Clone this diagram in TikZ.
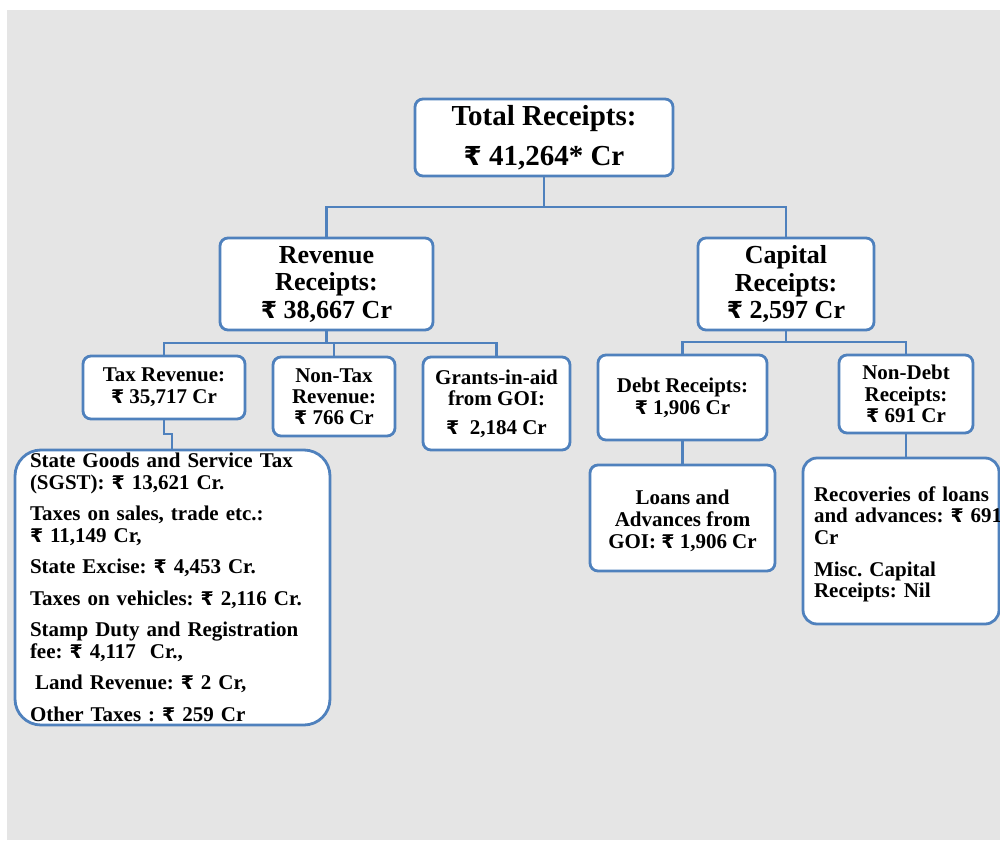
\documentclass[tikz,border=0pt]{standalone}
\usepackage{fontspec}
\setmainfont{Liberation Serif}
\newfontfamily\rupfont{DejaVu Sans}[Scale=0.9]
\definecolor{boxblue}{RGB}{79,129,189}
\definecolor{bggrey}{RGB}{229,229,229}
\newcommand{\rs}{{\rupfont ₹}}
\frenchspacing

\begin{document}
\begin{tikzpicture}[x=0.5pt,y=-0.5pt,
  box/.style={draw=boxblue,line width=1.4pt,fill=white,rounded corners=4pt,align=center,inner sep=2pt},
  conn/.style={draw=boxblue,line width=1.4pt}]
\useasboundingbox (0,0) rectangle (1000,840);
\fill[white] (0,0) rectangle (1000,840);
\fill[bggrey] (7,10) rectangle (1000,840);

% top level
\node [box,minimum width=129pt,minimum height=38.5pt,font=\bfseries\fontsize{14.5}{20}\selectfont] (total) at (544,137.5) {Total Receipts:\\ \rs\ 41,264* Cr};

% second level
\node [box,minimum width=106.5pt,minimum height=46pt,font=\bfseries\fontsize{13}{13.75}\selectfont] (revenue) at (326.5,284) {Revenue\\ Receipts:\\ \rs\ 38,667 Cr};
\node [box,minimum width=88pt,minimum height=46pt,font=\bfseries\fontsize{13}{13.75}\selectfont] (capital) at (786,284) {Capital\\ Receipts:\\ \rs\ 2,597 Cr};

% third level
\node [box,minimum width=81pt,minimum height=31.5pt,font=\bfseries\fontsize{10.5}{11}\selectfont] (tax) at (164,387.5) {Tax Revenue:\\ \rs\ 35,717 Cr};
\node [box,minimum width=61pt,minimum height=39.5pt,font=\bfseries\fontsize{10.5}{10.5}\selectfont] (nontax) at (334,396.5) {Non-Tax\\ Revenue:\\ \rs\ 766 Cr};
\node [box,minimum width=73.5pt,minimum height=46.5pt,font=\bfseries\fontsize{10.5}{10.5}\selectfont] (grants) at (496.5,403.5) {Grants-in-aid\\ from GOI:\\[4pt] \rs\ \ 2,184 Cr};
\node [box,minimum width=84.5pt,minimum height=42.5pt,font=\bfseries\fontsize{10.5}{11}\selectfont] (debt) at (682.5,397.5) {Debt Receipts:\\ \rs\ 1,906 Cr};
\node [box,minimum width=67pt,minimum height=39pt,font=\bfseries\fontsize{10.5}{10.65}\selectfont] (nondebt) at (906,394) {Non-Debt\\ Receipts:\\ \rs\ 691 Cr};

% fourth level
\node [box,minimum width=92.5pt,minimum height=53pt,font=\bfseries\fontsize{10.5}{11}\selectfont] (loans) at (682.5,518) {\rule{0pt}{10.5pt}Loans and\\ Advances from\\ GOI: \rs\ 1,906 Cr};
\node [box,rounded corners=7pt,minimum width=98pt,minimum height=83pt,text width=87pt,inner xsep=5.5pt,inner ysep=0pt,align=left,font=\bfseries\fontsize{10.5}{10.75}\selectfont] (recov) at (901,541)
  {\rule{0pt}{10.5pt}\mbox{Recoveries of loans}\\ \mbox{and advances: \rs\ 691}\\ Cr\\[5.25pt] Misc. Capital\\ Receipts: Nil};
\node [box,rounded corners=13pt,minimum width=157.5pt,minimum height=137.5pt,text width=142.5pt,inner xsep=7.5pt,inner ysep=0pt,align=left,font=\bfseries\fontsize{10.5}{10.75}\selectfont] (taxlist) at (172.5,587.5)
  {State Goods and Service Tax\\ (SGST): \rs\ 13,621 Cr.\\[5pt]
   Taxes on sales, trade etc.:\\ \rs\ 11,149 Cr,\\[5pt]
   State Excise: \rs\ 4,453 Cr.\\[5pt]
   Taxes on vehicles: \rs\ 2,116 Cr.\\[5pt]
   Stamp Duty and Registration\\ fee: \rs\ 4,117 \ Cr.,\\[5pt]
   \hspace*{2.5pt}Land Revenue: \rs\ 2 Cr,\\[5pt]
   Other Taxes : \rs\ 259 Cr};

% connectors
\coordinate (jtop) at (544,207);
\coordinate (jrev) at (326.5,343);
\coordinate (jcap) at (786,342);
\coordinate (jtax) at (172,434);
\draw [conn] (total.south) -- (jtop);
\draw [conn] (revenue.north) |- (jtop) -| (capital.north);
\draw [conn] (revenue.south) -- (jrev);
\draw [conn] (tax.north) |- (jrev) -| (grants.north);
\draw [conn] (nontax.north) -- (nontax.north |- jrev);
\draw [conn] (capital.south) -- (jcap);
\draw [conn] (debt.north) |- (jcap) -| (nondebt.north);
\draw [conn] (debt.south) -- (loans.north);
\draw [conn] (nondebt.south) -- (nondebt.south |- recov.north);
\draw [conn] (tax.south) |- (jtax) -- (jtax |- taxlist.north);
\end{tikzpicture}
\end{document}
